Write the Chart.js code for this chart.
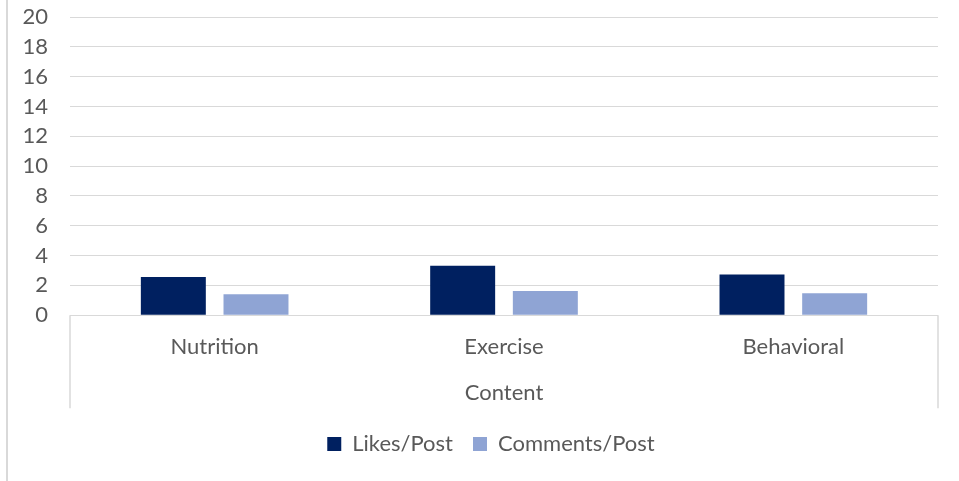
<!DOCTYPE html>
<html>
<head>
<meta charset="utf-8">
<script src="https://cdn.jsdelivr.net/npm/chart.js@4.4.1/dist/chart.umd.min.js"></script>
<style>
  html, body { margin: 0; padding: 0; background: #fff; }
  #wrap { position: relative; width: 959px; height: 481px; }
  #edge { position: absolute; left: 6px; top: 0; width: 2px; height: 481px; background: #d9d9d9; }
</style>
</head>
<body>
<div id="wrap">
  <div id="edge"></div>
  <canvas id="barChart"></canvas>
</div>
<script>
// values
const categories = ['Nutrition', 'Exercise', 'Behavioral'];
const likesPerPost = [2.57, 3.31, 2.73];
const commentsPerPost = [1.40, 1.63, 1.47];
const yTicks = [0, 2, 4, 6, 8, 10, 12, 14, 16, 18, 20];

const grey = '#d9d9d9';
const textColor = '#595959';
const font = { family: 'Lato', size: 22 };

// the open box round the category axis, as Excel draws it
// and the legend centred on the whole (cropped) chart frame
const excelFrame = {
  id: 'excelFrame',
  afterLayout(chart) {
    chart.legend.left = 44;
  },
  afterDraw(chart) {
    const { ctx, chartArea } = chart;
    const bottom = chartArea.bottom + 93;
    ctx.save();
    ctx.strokeStyle = grey;
    ctx.lineWidth = 1.5;
    ctx.beginPath();
    ctx.moveTo(chartArea.left, chartArea.bottom);
    ctx.lineTo(chartArea.left, bottom);
    ctx.moveTo(chartArea.right, chartArea.bottom);
    ctx.lineTo(chartArea.right, bottom);
    ctx.stroke();
    ctx.restore();
  }
};

new Chart(document.getElementById('barChart'), {
  type: 'bar',
  data: {
    labels: categories,
    datasets: [
      { label: 'Likes/Post', data: likesPerPost, backgroundColor: '#002060' },
      { label: 'Comments/Post', data: commentsPerPost, backgroundColor: '#8fa4d4' }
    ]
  },
  options: {
    responsive: true,
    maintainAspectRatio: false,
    animation: false,
    datasets: { bar: { categoryPercentage: 0.5714, barPercentage: 0.786 } },
    layout: { padding: { left: 0, right: 21, top: 17, bottom: 16 } },
    plugins: {
      tooltip: { enabled: false },
      legend: {
        position: 'bottom',
        labels: { boxWidth: 14, boxHeight: 14, padding: 20, color: textColor, font }
      }
    },
    scales: {
      x: {
        grid: { display: false },
        border: { display: false },
        ticks: { color: textColor, font, padding: 11 },
        title: { display: true, text: 'Content', color: textColor, font, padding: { top: 8, bottom: 7 } }
      },
      y: {
        min: 0,
        max: 20,
        afterFit(scale) {
          scale.width = 70;
          // tick padding should not push the plot down from the top
          scale.paddingTop = 0;
          scale.paddingBottom = 0;
        },
        afterBuildTicks(scale) { scale.ticks = yTicks.map(v => ({ value: v })); },
        grid: { color: grey, lineWidth: 1, drawTicks: false },
        border: { display: false },
        ticks: { color: textColor, font, padding: 22, autoSkip: false }
      }
    }
  },
  plugins: [excelFrame]
});
</script>
</body>
</html>
